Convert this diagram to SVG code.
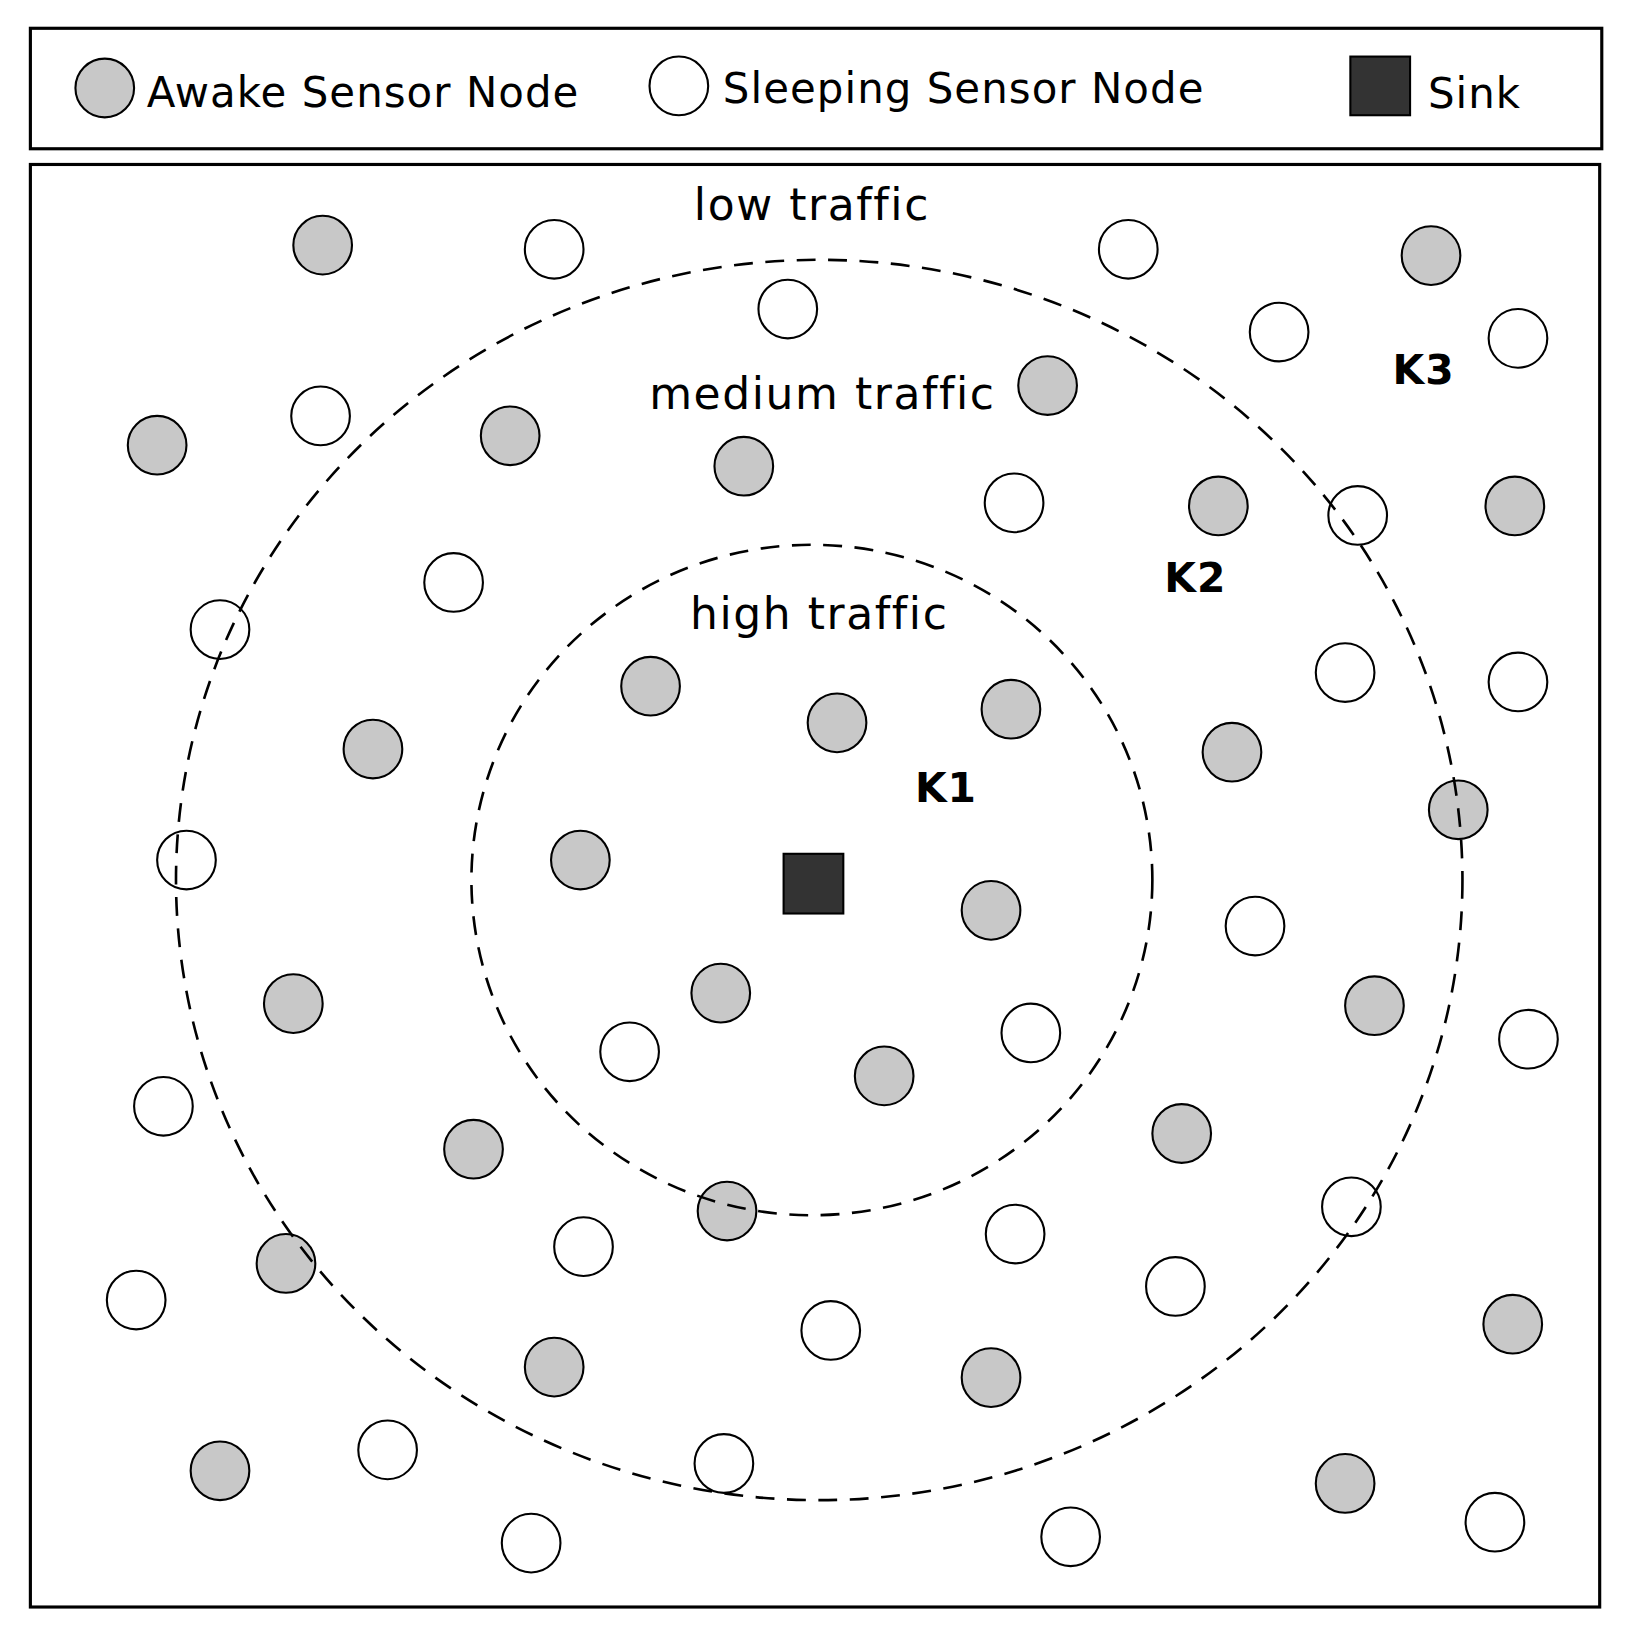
<svg xmlns="http://www.w3.org/2000/svg" width="1626" height="1644" viewBox="0 0 1626 1644">
<style>
.a{fill:#c8c8c8;stroke:#000;stroke-width:2}
.s{fill:#fff;stroke:#000;stroke-width:2}
.t{font-family:"DejaVu Sans",sans-serif;font-size:40px;fill:#000;letter-spacing:1px}
.l{font-family:"DejaVu Sans",sans-serif;font-size:42px;fill:#000;letter-spacing:1.5px;text-anchor:middle}
.k{font-family:"DejaVu Sans",sans-serif;font-size:39px;font-weight:bold;fill:#000;text-anchor:middle;letter-spacing:1px}
.d{fill:none;stroke:#000;stroke-width:2.5;stroke-dasharray:18 12}
</style>
<rect width="1626" height="1644" fill="#fff"/>
<g transform="scale(1.0476)">
<g id="legend">
<rect x="29" y="27" width="1500" height="115" fill="none" stroke="#000" stroke-width="3"/>
<circle class="a" cx="100" cy="84" r="28"/>
<text class="t" x="140" y="102">Awake Sensor Node</text>
<circle class="s" cx="648" cy="82" r="28"/>
<text class="t" x="690" y="98">Sleeping Sensor Node</text>
<rect x="1289" y="54" width="57" height="56" fill="#333" stroke="#000" stroke-width="2"/>
<text class="t" x="1363" y="103">Sink</text>
</g>
<rect x="29" y="157" width="1498" height="1377" fill="none" stroke="#000" stroke-width="3"/>
<g id="sink"><rect x="748" y="815" width="57" height="57" fill="#333" stroke="#000" stroke-width="2"/></g>
<g id="awake">
<circle class="a" cx="308" cy="234" r="28"/><circle class="a" cx="1366" cy="244" r="28"/><circle class="a" cx="150" cy="425" r="28"/><circle class="a" cx="487" cy="416" r="28"/><circle class="a" cx="710" cy="445" r="28"/><circle class="a" cx="1000" cy="368" r="28"/><circle class="a" cx="1163" cy="483" r="28"/><circle class="a" cx="1446" cy="483" r="28"/><circle class="a" cx="621" cy="655" r="28"/><circle class="a" cx="799" cy="690" r="28"/><circle class="a" cx="965" cy="677" r="28"/><circle class="a" cx="356" cy="715" r="28"/><circle class="a" cx="1176" cy="718" r="28"/><circle class="a" cx="1392" cy="773" r="28"/><circle class="a" cx="554" cy="821" r="28"/><circle class="a" cx="946" cy="869" r="28"/><circle class="a" cx="280" cy="958" r="28"/><circle class="a" cx="688" cy="948" r="28"/><circle class="a" cx="844" cy="1027" r="28"/><circle class="a" cx="1312" cy="960" r="28"/><circle class="a" cx="452" cy="1097" r="28"/><circle class="a" cx="1128" cy="1082" r="28"/><circle class="a" cx="694" cy="1156" r="28"/><circle class="a" cx="273" cy="1206" r="28"/><circle class="a" cx="1444" cy="1264" r="28"/><circle class="a" cx="529" cy="1305" r="28"/><circle class="a" cx="946" cy="1315" r="28"/><circle class="a" cx="210" cy="1404" r="28"/><circle class="a" cx="1284" cy="1416" r="28"/>
</g>
<g id="sleeping">
<circle class="s" cx="529" cy="238" r="28"/><circle class="s" cx="1077" cy="238" r="28"/><circle class="s" cx="752" cy="295" r="28"/><circle class="s" cx="1221" cy="317" r="28"/><circle class="s" cx="1449" cy="323" r="28"/><circle class="s" cx="306" cy="397" r="28"/><circle class="s" cx="968" cy="480" r="28"/><circle class="s" cx="1296" cy="492" r="28"/><circle class="s" cx="433" cy="556" r="28"/><circle class="s" cx="210" cy="601" r="28"/><circle class="s" cx="1284" cy="642" r="28"/><circle class="s" cx="1449" cy="651" r="28"/><circle class="s" cx="178" cy="821" r="28"/><circle class="s" cx="1198" cy="884" r="28"/><circle class="s" cx="601" cy="1004" r="28"/><circle class="s" cx="984" cy="986" r="28"/><circle class="s" cx="1459" cy="992" r="28"/><circle class="s" cx="156" cy="1056" r="28"/><circle class="s" cx="1290" cy="1152" r="28"/><circle class="s" cx="969" cy="1178" r="28"/><circle class="s" cx="557" cy="1190" r="28"/><circle class="s" cx="1122" cy="1228" r="28"/><circle class="s" cx="130" cy="1241" r="28"/><circle class="s" cx="793" cy="1270" r="28"/><circle class="s" cx="370" cy="1384" r="28"/><circle class="s" cx="691" cy="1397" r="28"/><circle class="s" cx="507" cy="1473" r="28"/><circle class="s" cx="1022" cy="1467" r="28"/><circle class="s" cx="1427" cy="1453" r="28"/>
</g>
<g id="zones">
<ellipse class="d" cx="775" cy="840" rx="325" ry="320"/>
<ellipse class="d" cx="782" cy="840" rx="614" ry="592"/>
<text class="l" x="775" y="210">low traffic</text>
<text class="l" x="785" y="390">medium traffic</text>
<text class="l" x="782" y="600">high traffic</text>
<text class="k" x="903" y="766">K1</text>
<text class="k" x="1141" y="565">K2</text>
<text class="k" x="1359" y="367">K3</text>
</g>
</g>
</svg>
